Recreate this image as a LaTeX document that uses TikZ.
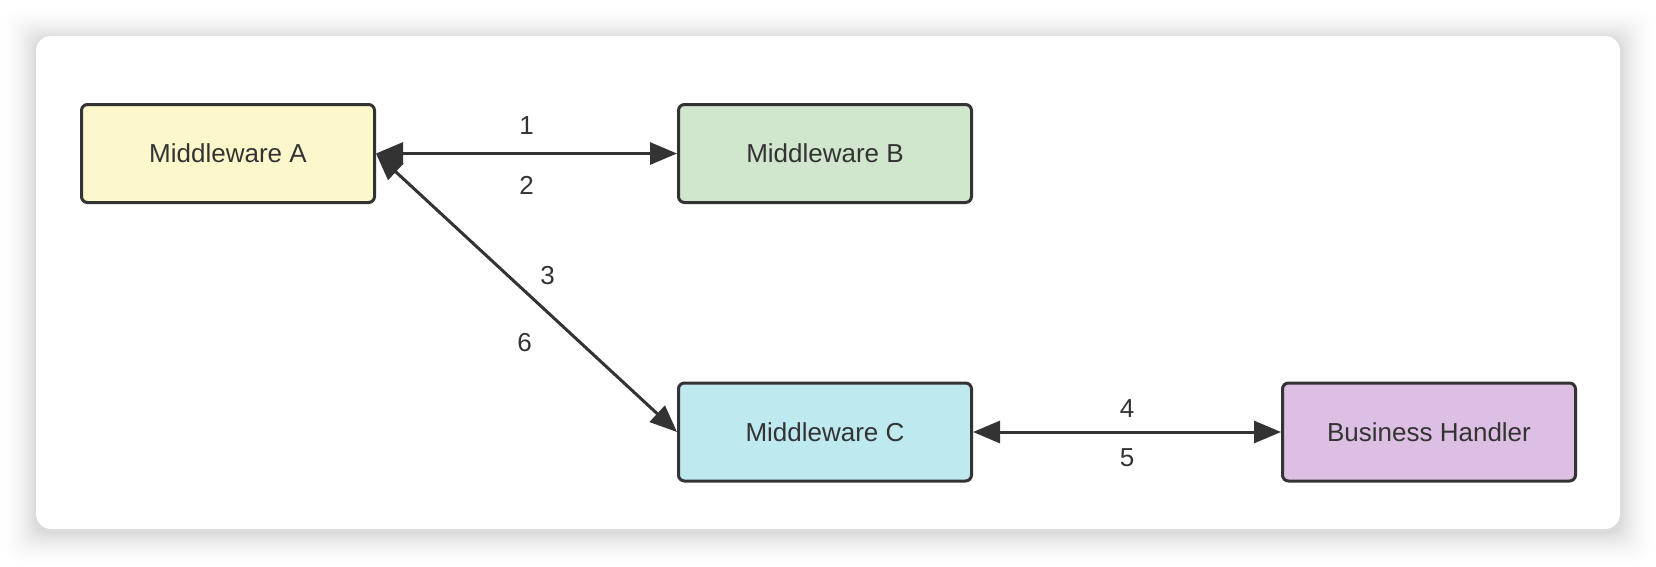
\documentclass[tikz,border=0pt]{standalone}
\usepackage{fontspec}
\setmainfont{Liberation Sans}
\usetikzlibrary{arrows.meta}

\definecolor{boxline}{HTML}{333333}
\definecolor{txtgray}{HTML}{333333}
\definecolor{fillA}{HTML}{FDF8CC}
\definecolor{fillB}{HTML}{D0E6CD}
\definecolor{fillC}{HTML}{BEE9EF}
\definecolor{fillD}{HTML}{DDBFE4}

\tikzset{
  mwbox/.style={draw=boxline, line width=3pt, rounded corners=6pt,
    minimum width=293pt, minimum height=98pt, inner sep=0pt,
    text=txtgray, font=\fontsize{26}{30}\selectfont},
  link/.style={draw=boxline, line width=3pt,
    {Triangle[length=27pt,width=22pt]}-{Triangle[length=27pt,width=22pt]}},
  num/.style={text=txtgray, font=\fontsize{26}{30}\selectfont}
}

\begin{document}
\begin{tikzpicture}[x=1pt,y=-1pt]
  \useasboundingbox (0,0) rectangle (1656,566);
  \fill[white] (0,0) rectangle (1656,566);

  % card with soft shadow
  \foreach \r [evaluate=\r as \p using 15*((35-\r)/35)^2] in {34,...,1}
    \fill[black!\p!white, rounded corners=15pt]
      (36-\r,39-\r) rectangle (1620+\r,532+\r);
  \fill[white, rounded corners=15pt] (36,36) rectangle (1620,529);

  % middlewares
  \node[mwbox, fill=fillA] (mwa) at (228,153.5) {Middleware A};
  \node[mwbox, fill=fillB] (mwb) at (825,153.5) {Middleware B};
  \node[mwbox, fill=fillC] (mwc) at (825,432) {Middleware C};
  \node[mwbox, fill=fillD] (handler) at (1429,432) {Business Handler};

  % calls
  \draw[link] (mwa) -- (mwb)
    node[num, midway, yshift=28pt] {1}
    node[num, midway, yshift=-32pt] {2};
  \draw[link] (mwa.east) -- (mwc.west)
    node[num, pos=0.51, xshift=18pt, yshift=20pt] {3}
    node[num, pos=0.58, xshift=-26pt, yshift=-28pt] {6};
  \draw[link] (mwc) -- (handler)
    node[num, midway, yshift=23pt] {4}
    node[num, midway, yshift=-26pt] {5};
\end{tikzpicture}
\end{document}
